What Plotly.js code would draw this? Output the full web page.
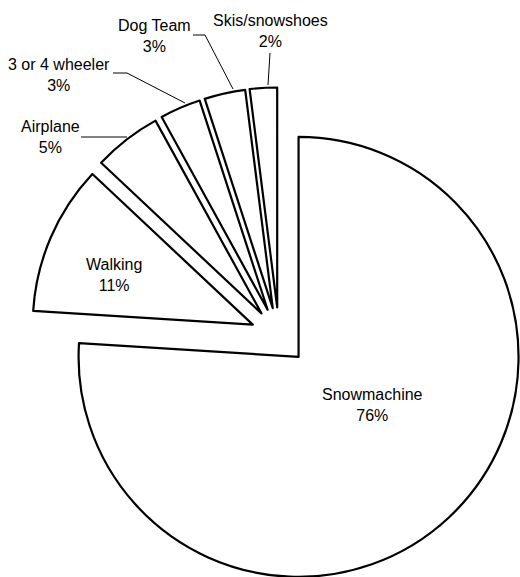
<!DOCTYPE html>
<html>
<head>
<meta charset="utf-8">
<script src="https://cdn.plot.ly/plotly-3.0.1.min.js"></script>
<style>
html,body{margin:0;padding:0;background:#fff;overflow:hidden;width:520px;height:577px;}
#chart{width:540px;height:600px;}
</style>
</head>
<body>
<div id="chart"></div>
<script>
// ---- data ----
var categories = ["Snowmachine", "Walking", "Airplane", "3 or 4 wheeler", "Dog Team", "Skis/snowshoes"];
var percents = [76, 11, 5, 3, 3, 2];

// ---- layout helpers (pixel positions of labels / leader lines) ----
var W = 540, H = 600;
function px(x){ return x / W; }
function py(y){ return 1 - y / H; }

var labelPos = [
  [372, 404.5],
  [114, 274.5],
  [50, 137],
  [59, 75],
  [154.5, 36.5],
  [270, 31]
];
var leaderPaths = [
  null,
  null,
  [[81,137],[127,137]],
  [[113,73],[127,73],[185,103]],
  [[193,35],[205,35],[233,89]],
  [[270,53],[268,85]]
];

var fontFam = '"Liberation Sans", Arial, sans-serif';

var trace = {
  type: 'pie',
  labels: categories,
  values: percents,
  sort: false,
  direction: 'clockwise',
  rotation: 0,
  pull: categories.map(function(){ return 0.13; }),
  textinfo: 'none',
  hoverinfo: 'none',
  showlegend: false,
  marker: {
    colors: categories.map(function(){ return '#ffffff'; }),
    line: { color: '#000000', width: 2.2 }
  },
  domain: { x: [0.0563, 0.9770], y: [0.0257, 0.8543] }
};

var annotations = categories.map(function(c, i){
  return {
    xref: 'paper', yref: 'paper',
    x: px(labelPos[i][0]), y: py(labelPos[i][1]),
    xanchor: 'center', yanchor: 'middle',
    text: c + '<br>' + percents[i] + '%',
    showarrow: false,
    font: { family: fontFam, size: 16, color: '#000' }
  };
});

var shapes = [];
leaderPaths.forEach(function(p){
  if(!p) return;
  var d = p.map(function(pt, j){ return (j ? 'L ' : 'M ') + px(pt[0]) + ' ' + py(pt[1]); }).join(' ');
  shapes.push({ type: 'path', xref: 'paper', yref: 'paper', path: d, line: { color: '#000', width: 1 } });
});

var layout = {
  width: W, height: H,
  margin: { l: 0, r: 0, t: 0, b: 0 },
  paper_bgcolor: '#fff',
  plot_bgcolor: '#fff',
  font: { family: fontFam, size: 16, color: '#000' },
  annotations: annotations,
  shapes: shapes
};

Plotly.newPlot('chart', [trace], layout, { displayModeBar: false, staticPlot: true });
</script>
</body>
</html>
